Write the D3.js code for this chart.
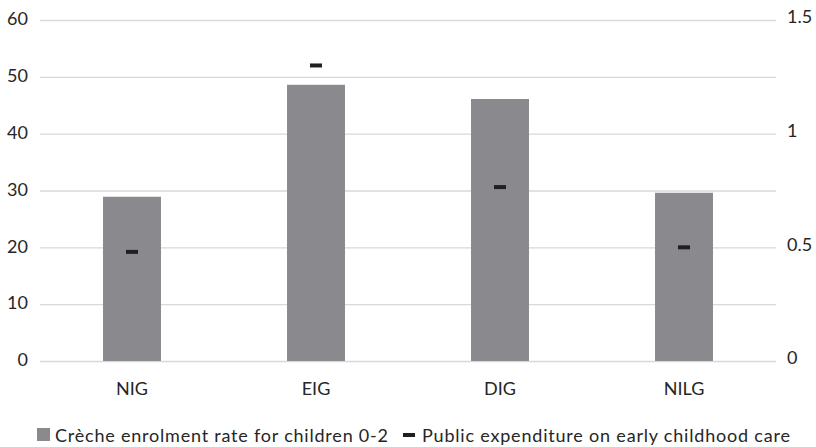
<!DOCTYPE html>
<html>
<head>
<meta charset="utf-8">
<script src="https://cdn.jsdelivr.net/npm/d3@7"></script>
<style>
  body { margin: 0; background: #fff; }
  text { font-family: Lato, "Open Sans", sans-serif; fill: #262626; }
</style>
</head>
<body>
<script>
// data
const groups = ["NIG", "EIG", "DIG", "NILG"]
const enrolment = [28.9, 48.6, 46.1, 29.6]
const expenditure = [0.48, 1.3, 0.765, 0.5]
const leftTicks = [0, 10, 20, 30, 40, 50, 60]
const rightTicks = [0, 0.5, 1, 1.5]

const width = 816, height = 447
const margin = {top: 20, right: 40, bottom: 86, left: 40}
const fontSize = "18px"

const svg = d3.select("body").append("svg")
    .attr("width", width)
    .attr("height", height)

const x = d3.scaleBand()
    .domain(groups)
    .range([margin.left, width - margin.right])
    .paddingInner(0.685)
    .paddingOuter(0.3425)

const y = d3.scaleLinear().domain([0, 60]).range([height - margin.bottom, margin.top])
const y2 = d3.scaleLinear().domain([0, 1.5]).range([height - margin.bottom, margin.top])

// gridlines
svg.append("g")
    .selectAll("line")
    .data(leftTicks)
    .join("line")
    .attr("x1", margin.left)
    .attr("x2", width - margin.right)
    .attr("y1", d => y(d) + 0.5)
    .attr("y2", d => y(d) + 0.5)
    .attr("stroke", "#d9d9d9")
    .attr("stroke-width", 1.3)

// left axis
const yAxis = svg.append("g")
    .attr("transform", `translate(${margin.left - 12},-1)`)
    .call(d3.axisLeft(y).tickValues(leftTicks).tickSize(0).tickPadding(0))
yAxis.select(".domain").remove()
yAxis.selectAll("text").style("font-size", fontSize).attr("fill", "#262626")

// right axis
const y2Axis = svg.append("g")
    .attr("transform", `translate(${width - margin.right + 11},-3)`)
    .call(d3.axisRight(y2).tickValues(rightTicks).tickSize(0).tickPadding(0).tickFormat(d3.format("")))
y2Axis.select(".domain").remove()
y2Axis.selectAll("text").style("font-size", fontSize).attr("fill", "#262626")

// bottom labels
const xAxis = svg.append("g")
    .attr("transform", `translate(0,${height - margin.bottom + 21})`)
    .call(d3.axisBottom(x).tickSize(0).tickPadding(0))
xAxis.select(".domain").remove()
xAxis.selectAll("text").style("font-size", fontSize).attr("fill", "#262626")

// bars
svg.append("g")
    .selectAll("rect")
    .data(enrolment)
    .join("rect")
    .attr("x", (d, i) => x(groups[i]))
    .attr("y", d => y(d))
    .attr("width", x.bandwidth())
    .attr("height", d => y(0) - y(d))
    .attr("fill", "#8a8a8e")

// expenditure markers
svg.append("g")
    .selectAll("rect")
    .data(expenditure)
    .join("rect")
    .attr("x", (d, i) => x(groups[i]) + x.bandwidth() / 2 - 6)
    .attr("y", d => y2(d) - 2)
    .attr("width", 12)
    .attr("height", 4)
    .attr("fill", "#231f20")

// legend
const legend = svg.append("g").attr("transform", "translate(0,435)")
legend.append("rect")
    .attr("x", 37).attr("y", -7).attr("width", 13).attr("height", 13)
    .attr("fill", "#8a8a8e")
legend.append("text")
    .attr("x", 55).attr("y", 7)
    .attr("textLength", 333)
    .style("font-size", fontSize)
    .text("Crèche enrolment rate for children 0-2")
legend.append("rect")
    .attr("x", 403).attr("y", -2).attr("width", 12).attr("height", 4)
    .attr("fill", "#231f20")
legend.append("text")
    .attr("x", 422).attr("y", 7)
    .attr("textLength", 368)
    .style("font-size", fontSize)
    .text("Public expenditure on early childhood care")
</script>
</body>
</html>
